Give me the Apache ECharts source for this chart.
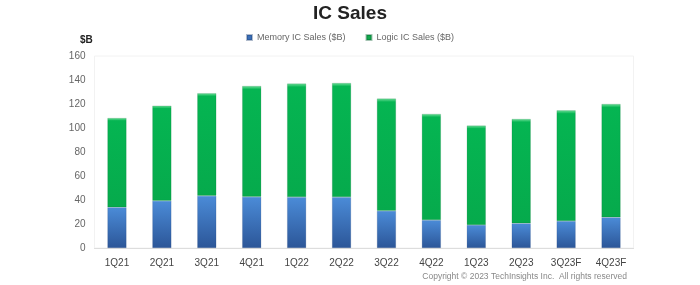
<!DOCTYPE html>
<html><head><meta charset="utf-8">
<script src="https://cdn.jsdelivr.net/npm/echarts@6/dist/echarts.min.js"></script>
<style>html,body{margin:0;padding:0;background:#fff}#c{width:700px;height:285px}</style>
</head><body><div id="c"></div>
<script>
var categories = ['1Q21','2Q21','3Q21','4Q21','1Q22','2Q22','3Q22','4Q22','1Q23','2Q23','3Q23F','4Q23F'];
var memorySales = [34, 39.4, 43.6, 42.8, 42.5, 42.5, 31, 23.3, 19.2, 20.6, 22.5, 25.6];
var logicSales = [74.3, 79.2, 85.4, 92.2, 94.5, 95, 93.5, 88.4, 82.8, 86.9, 92.2, 94.4];
var yTicks = [0, 20, 40, 60, 80, 100, 120, 140, 160];

var chart = echarts.init(document.getElementById('c'));
function grad(top, mid, bottom) {
  return new echarts.graphic.LinearGradient(0, 0, 0, 1, [
    {offset: 0, color: top}, {offset: 0.03, color: mid}, {offset: 1, color: bottom}
  ]);
}
chart.setOption({
  animation: false,
  title: {
    text: 'IC Sales', left: 'center', top: -1,
    textStyle: {fontFamily: 'Liberation Sans', fontSize: 19, fontWeight: 'bold', color: '#222'}
  },
  legend: {
    top: 28, left: 'center', itemWidth: 5, itemHeight: 5, itemGap: 20,
    icon: 'rect',
    textStyle: {fontFamily: 'Liberation Sans', fontSize: 9, color: '#666'},
    data: [
      {name: 'Memory IC Sales ($B)', itemStyle: {color: '#3a6fb8'}},
      {name: 'Logic IC Sales ($B)', itemStyle: {color: '#12a84c'}}
    ]
  },
  graphic: [
    {type: 'text', left: 80, top: 35, style: {text: '$B', font: 'bold 10px "Liberation Sans"', fill: '#222'}},
    {type: 'text', right: 73, top: 272, style: {text: 'Copyright \u00a9 2023 TechInsights Inc.  All rights reserved', font: '8.5px "Liberation Sans"', fill: '#888'}}
  ],
  grid: {left: 94.5, right: 66.5, top: 56, bottom: 37, show: true, borderColor: '#f2f2f2', borderWidth: 1},
  xAxis: {
    type: 'category', data: categories,
    axisLine: {lineStyle: {color: '#ddd'}}, axisTick: {show: false},
    axisLabel: {fontFamily: 'Liberation Sans', fontSize: 10, color: '#444', margin: 10}
  },
  yAxis: {
    type: 'value', min: yTicks[0], max: yTicks[yTicks.length - 1], interval: 20,
    splitLine: {show: false}, axisLine: {show: false}, axisTick: {show: false},
    axisLabel: {fontFamily: 'Liberation Sans', fontSize: 10, color: '#666', margin: 9}
  },
  series: [
    {name: 'Memory IC Sales ($B)', type: 'bar', stack: 'ic', barWidth: 19, data: memorySales,
     itemStyle: {color: grad('#8fc4f0', '#4a8ad6', '#2c5698'), borderColor: 'rgba(30,60,110,0.35)', borderWidth: 0.5}},
    {name: 'Logic IC Sales ($B)', type: 'bar', stack: 'ic', barWidth: 19, data: logicSales,
     itemStyle: {color: grad('#6fe09a', '#05b552', '#06aa4c'), borderColor: 'rgba(0,90,40,0.35)', borderWidth: 0.5}}
  ]
});
</script></body></html>
